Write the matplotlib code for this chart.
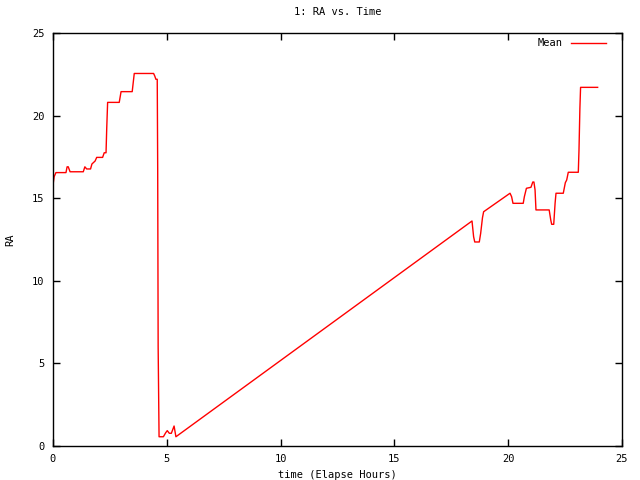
import matplotlib
matplotlib.use("Agg")
import matplotlib.pyplot as plt

hours = [0.0, 0.05, 0.13, 0.57, 0.62, 0.67, 0.75, 0.8, 1.33, 1.4, 1.48, 1.65, 1.71,
         1.85, 1.92, 2.18, 2.25, 2.33, 2.36, 2.4, 2.91, 2.99, 3.48, 3.57, 4.42, 4.47,
         4.52, 4.58, 4.6, 4.62, 4.66, 4.85, 4.95, 5.02, 5.11, 5.2, 5.32, 5.40,
         18.41, 18.48, 18.53, 18.73, 18.79, 18.87, 18.92, 20.08, 20.15, 20.21, 20.66,
         20.71, 20.8, 21.0, 21.08, 21.13, 21.18, 21.22, 21.8, 21.87, 21.91, 22.0, 22.06,
         22.1, 22.42, 22.51, 22.57, 22.64, 23.08, 23.11, 23.15, 23.18, 23.93]
ra_mean = [15.8, 16.3, 16.55, 16.55, 16.9, 16.9, 16.6, 16.6, 16.6, 16.9, 16.77, 16.77,
           17.07, 17.25, 17.47, 17.47, 17.75, 17.75, 19.2, 20.8, 20.8, 21.45, 21.45, 22.55,
           22.55, 22.4, 22.2, 22.2, 16.8, 6.0, 0.56, 0.56, 0.8, 0.93, 0.77, 0.77, 1.21, 0.56,
           13.62, 12.67, 12.35, 12.35, 12.87, 13.82, 14.18, 15.3, 15.09, 14.69, 14.69,
           15.09, 15.6, 15.66, 15.98, 15.98, 15.5, 14.29, 14.29, 13.68, 13.42, 13.42, 14.69,
           15.3, 15.3, 15.94, 16.1, 16.57, 16.57, 17.9, 20.44, 21.71, 21.71]

font = {"family": "DejaVu Sans Mono", "size": 7.5}

fig = plt.figure(figsize=(6.4, 4.8), dpi=100)
ax = fig.add_axes([53/640, 1 - 446/480, (622-53)/640, (446-33)/480])
ax.plot(hours, ra_mean, color="#ff0000", lw=1.0, label="Mean")
ax.set_xlim(0, 25)
ax.set_ylim(0, 25)
ax.set_xticks(range(0, 26, 5))
ax.set_yticks(range(0, 26, 5))
ax.tick_params(direction="in", length=5, width=1, top=True, right=True,
               labelsize=7.5, pad=6)
for lab in ax.get_xticklabels() + ax.get_yticklabels():
    lab.set_family("DejaVu Sans Mono")
for s in ax.spines.values():
    s.set_linewidth(1)
ax.set_title("1: RA vs. Time", fontdict=font, pad=13)
ax.set_xlabel("time (Elapse Hours)", fontdict=font, labelpad=4)
ax.set_ylabel("RA", fontdict=font)
ax.yaxis.set_label_coords(-(53 - 10) / 569, 0.5)
ax.yaxis.label.set_verticalalignment("center")
leg = ax.legend(loc="upper right", frameon=False, prop={"family": "DejaVu Sans Mono", "size": 7.5},
                markerfirst=False, handlelength=3.3, borderaxespad=0.3,
                bbox_to_anchor=(1 - 9/569, 1 + 2/413))
fig.savefig("out.png", dpi=100)
